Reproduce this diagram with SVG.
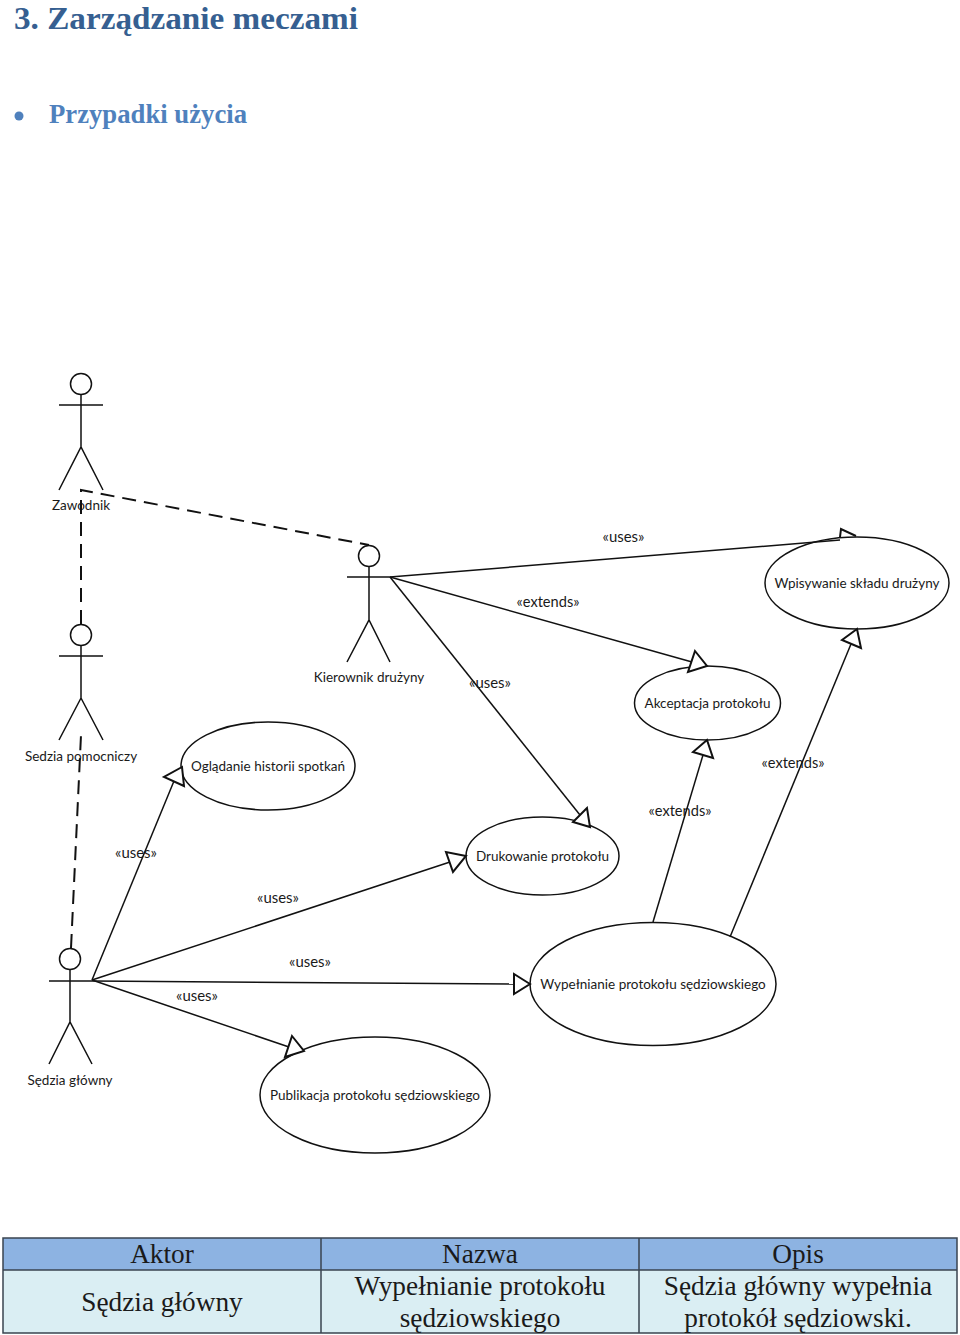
<svg xmlns="http://www.w3.org/2000/svg" width="960" height="1335" viewBox="0 0 960 1335">
<style>
.l{fill:none;stroke:#111;stroke-width:1.5}
.d{fill:none;stroke:#111;stroke-width:2;stroke-dasharray:14 8}
.a{fill:#fff;stroke:#111;stroke-width:2}
.e{fill:#fff;stroke:#111;stroke-width:1.5}
.t{font-family:"Lato","Carlito","Liberation Sans",sans-serif;font-size:13.500px;fill:#1a1a1a;text-anchor:middle}
.s{font-family:"Lato","Carlito","Liberation Sans",sans-serif;font-size:14.500px;fill:#1a1a1a;text-anchor:middle}
.c{font-family:"Liberation Serif",serif;font-size:27.300px;fill:#1a1a1a;text-anchor:middle}
.h{font-family:"Liberation Serif",serif;font-weight:bold}
</style>
<rect width="960" height="1335" fill="#fff"/>
<g id="headings">
<text class="h" x="14" y="29" font-size="31" fill="#365f91" textLength="344" lengthAdjust="spacingAndGlyphs">3. Zarządzanie meczami</text>
<circle cx="19" cy="116" r="4.500" fill="#4f81bd"/>
<text class="h" x="49" y="123" font-size="27" fill="#4f81bd" textLength="198" lengthAdjust="spacingAndGlyphs">Przypadki użycia</text>
</g>
<g id="actor-zawodnik">
<circle class="l" cx="81" cy="384" r="10.500"/>
<path class="l" d="M59,405H103M81,394.500V447M59,490L81,447L103,490"/>
<text class="t" x="81" y="510">Zawodnik</text>
</g>
<g id="actor-pomocniczy">
<circle class="l" cx="81" cy="635" r="10.500"/>
<path class="l" d="M59,656H103M81,645.500V698M59,740L81,698L103,740"/>
<text class="t" x="81" y="760.500">Sedzia pomocniczy</text>
</g>
<g id="actor-kierownik">
<circle class="l" cx="369" cy="556" r="10.500"/>
<path class="l" d="M347,577H390M369,566.500V620M347,662L369,620L390,662"/>
<text class="t" x="369" y="681.500">Kierownik drużyny</text>
</g>
<g id="actor-sedzia">
<circle class="l" cx="70" cy="959" r="10.500"/>
<path class="l" d="M49,981H92M70,969.500V1022M49,1064L70,1022L92,1064"/>
<text class="t" x="70" y="1084.500">Sędzia główny</text>
</g>
<g id="uc-wpisywanie"><ellipse class="e" cx="857" cy="583" rx="92" ry="46"/><text class="t" x="857" y="587.500">Wpisywanie składu drużyny</text></g>
<g id="uc-akceptacja"><ellipse class="e" cx="707.500" cy="703" rx="73" ry="37"/><text class="t" x="707.500" y="707.500">Akceptacja protokołu</text></g>
<g id="uc-ogladanie"><ellipse class="e" cx="268" cy="766" rx="87" ry="44"/><text class="t" x="268" y="770.500">Oglądanie historii spotkań</text></g>
<g id="uc-drukowanie"><ellipse class="e" cx="542.500" cy="856" rx="76.500" ry="39"/><text class="t" x="542.500" y="860.500">Drukowanie protokołu</text></g>
<g id="uc-wypelnianie"><ellipse class="e" cx="653" cy="984" rx="123" ry="61.500"/><text class="t" x="653" y="988.500">Wypełnianie protokołu sędziowskiego</text></g>
<g id="uc-publikacja"><ellipse class="e" cx="375" cy="1095" rx="115" ry="58"/><text class="t" x="375" y="1099.500">Publikacja protokołu sędziowskiego</text></g>
<g id="connectors">
<polyline class="d" points="81,624 81,490 369,545"/>
<line class="d" x1="71" y1="948" x2="81" y2="735"/>
<line class="l" x1="390" y1="577" x2="840" y2="540"/>
<line class="l" x1="390" y1="577" x2="692" y2="662"/>
<line class="l" x1="390" y1="577" x2="580" y2="815"/>
<line class="l" x1="653" y1="922" x2="703" y2="755"/>
<line class="l" x1="730" y1="937" x2="851" y2="644"/>
<line class="l" x1="92" y1="980" x2="174" y2="781"/>
<line class="l" x1="92" y1="980" x2="450" y2="862"/>
<line class="l" x1="92" y1="981" x2="514" y2="984"/>
<line class="l" x1="92" y1="980" x2="289" y2="1047"/>
<polyline class="l" style="stroke-width:2" points="840,537 841,529 856,536"/>
<polygon class="a" points="695,651 707,666 688,672"/>
<polygon class="a" points="857,629 842,640 861,648"/>
<polygon class="a" points="707,740 693,752 713,758"/>
<polygon class="a" points="587,808 573,822 590,827"/>
<polygon class="a" points="466,856 446,852 453,872"/>
<polygon class="a" points="530,984 514,974 514,994"/>
<polygon class="a" points="292,1036 304,1051 285,1057"/>
<polygon class="a" points="182,767 164,777 184,786"/>
</g>
<g id="labels">
<text class="s" x="623.500" y="541.500" textLength="42" lengthAdjust="spacingAndGlyphs">«uses»</text>
<text class="s" x="548" y="606.500" textLength="63" lengthAdjust="spacingAndGlyphs">«extends»</text>
<text class="s" x="490" y="687.500" textLength="42" lengthAdjust="spacingAndGlyphs">«uses»</text>
<text class="s" x="793" y="767.500" textLength="63" lengthAdjust="spacingAndGlyphs">«extends»</text>
<text class="s" x="680" y="815.500" textLength="63" lengthAdjust="spacingAndGlyphs">«extends»</text>
<text class="s" x="136" y="857.500" textLength="42" lengthAdjust="spacingAndGlyphs">«uses»</text>
<text class="s" x="278" y="902.500" textLength="42" lengthAdjust="spacingAndGlyphs">«uses»</text>
<text class="s" x="310" y="966.500" textLength="42" lengthAdjust="spacingAndGlyphs">«uses»</text>
<text class="s" x="197" y="1000.500" textLength="42" lengthAdjust="spacingAndGlyphs">«uses»</text>
</g>
<g id="table">
<rect x="3" y="1238" width="954" height="32" fill="#8db3e2"/>
<rect x="3" y="1270" width="954" height="63" fill="#daeef3"/>
<path d="M3,1238H957V1333H3ZM3,1270H957M321,1238V1333M639,1238V1333" fill="none" stroke="#3a4450" stroke-width="1.500"/>
<text class="c" x="162" y="1263">Aktor</text>
<text class="c" x="480" y="1263">Nazwa</text>
<text class="c" x="798" y="1263">Opis</text>
<text class="c" x="162" y="1311">Sędzia główny</text>
<text class="c" x="480" y="1295">Wypełnianie protokołu</text>
<text class="c" x="480" y="1327">sędziowskiego</text>
<text class="c" x="798" y="1295">Sędzia główny wypełnia</text>
<text class="c" x="798" y="1327">protokół sędziowski.</text>
</g>
</svg>
